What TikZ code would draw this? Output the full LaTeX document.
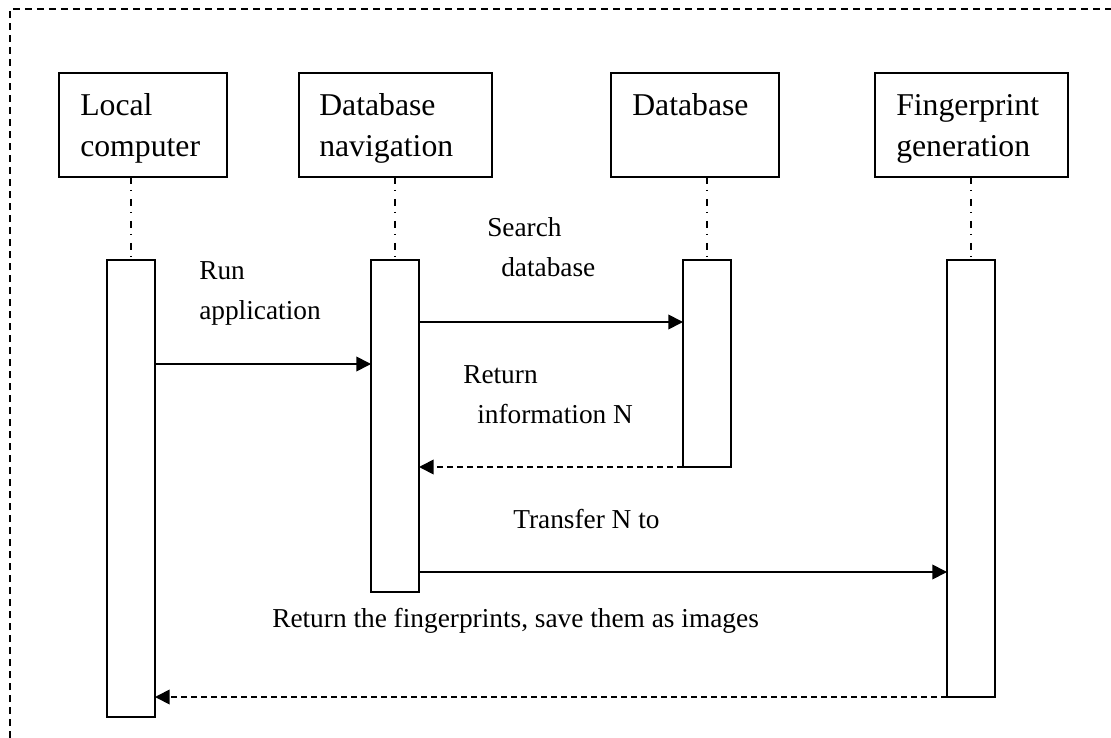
\documentclass[tikz,border=0pt]{standalone}
\usepackage{fontspec}
\setmainfont{Liberation Serif}
\usetikzlibrary{arrows.meta}

\tikzset{
  frame/.style={line width=1.2pt, dash pattern=on 5pt off 4pt},
  actor/.style={draw, line width=1.4pt, rectangle, inner sep=0pt, outer sep=0pt,
                minimum height=78pt, anchor=north west},
  bar/.style={draw, line width=1.4pt, rectangle, inner sep=0pt, outer sep=0pt,
              minimum width=36pt, anchor=north west},
  title/.style={anchor=base west, inner sep=0pt,
                font=\fontsize{23.8}{30.75}\selectfont},
  note/.style={anchor=base west, inner sep=0pt,
               font=\fontsize{20.5}{30}\selectfont},
  lifeline/.style={line width=1.2pt, dash pattern=on 5.25pt off 4.5pt on 1.1pt off 5.6pt},
  call/.style={line width=1.3pt, -{Triangle[length=11pt,width=11pt]}},
  reply/.style={line width=1.3pt, dash pattern=on 4.5pt off 3pt,
                -{Triangle[length=11pt,width=11pt]}},
}

\newcommand{\twolines}[3][0pt]{\begin{tabular}[t]{@{}l@{}}#2\\\hspace*{#1}#3\end{tabular}}

\begin{document}
\begin{tikzpicture}[x=0.75pt, y=-0.75pt]
  \useasboundingbox (0,0) rectangle (1111,738);

  % outer frame (top and left edges)
  \draw[frame] (10,738) -- (10,9) -- (1111,9);

  % participants
  \node[actor, minimum width=126pt]    (lc) at (59,73)  {};
  \node[actor, minimum width=144.75pt] (nav) at (299,73) {};
  \node[actor, minimum width=126pt]    (db) at (611,73) {};
  \node[actor, minimum width=144.75pt] (fp) at (875,73) {};

  \node[title] (lct)  at (80,116)  {\twolines{Local}{computer}};
  \node[title] (navt) at (319,116) {\twolines{Database}{navigation}};
  \node[title] (dbt)  at (632,116) {Database};
  \node[title] (fpt)  at (896,116) {\twolines{Fingerprint}{generation}};

  % activation bars
  \node[bar, minimum height=342.75pt] (ac1) at (107,260) {};
  \node[bar, minimum height=249pt]    (ac2) at (371,260) {};
  \node[bar, minimum height=155.25pt] (ac3) at (683,260) {};
  \node[bar, minimum height=327.75pt] (ac4) at (947,260) {};

  % lifelines
  \draw[lifeline] (ac1.north |- lc.south)  -- (ac1.north);
  \draw[lifeline] (ac2.north |- nav.south) -- (ac2.north);
  \draw[lifeline] (ac3.north |- db.south)  -- (ac3.north);
  \draw[lifeline] (ac4.north |- fp.south)  -- (ac4.north);

  % messages
  \draw[call]  (ac1.east |- 0,364) -- (ac2.west |- 0,364);
  \node[note] (m1) at (199,280) {\twolines{Run}{application}};

  \draw[call]  (ac2.east |- 0,322) -- (ac3.west |- 0,322);
  \node[note] (m2) at (487,237) {\twolines[10.5pt]{Search}{database}};

  \draw[reply] (ac3.south west) -- (ac2.east |- ac3.south west);
  \node[note] (m3) at (463,383) {\twolines[10.5pt]{Return}{information N}};

  \draw[call]  (ac2.east |- 0,572) -- (ac4.west |- 0,572);
  \node[note] (m4) at (513,528) {Transfer N to};

  \draw[reply] (ac4.south west) -- (ac1.east |- ac4.south west);
  \node[note] (m5) at (272,627) {Return the fingerprints, save them as images};
\end{tikzpicture}
\end{document}
